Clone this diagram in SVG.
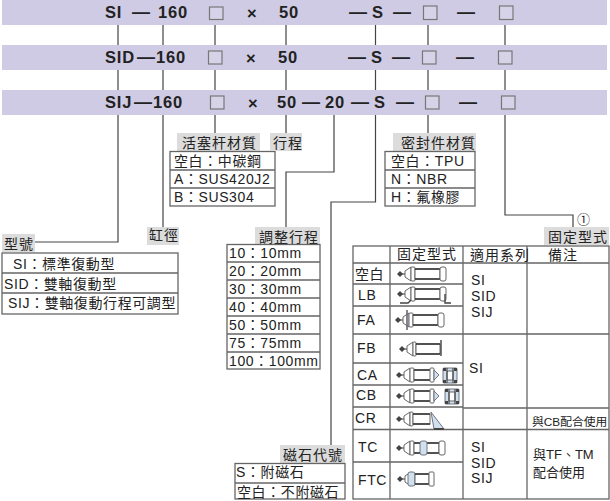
<svg xmlns="http://www.w3.org/2000/svg" width="610" height="501" viewBox="0 0 610 501">
<style>
text{font-family:"Liberation Sans","Noto Sans CJK TC",sans-serif;font-size:14px;fill:#222;letter-spacing:.6px}
.h{font-weight:bold;font-size:16.5px;letter-spacing:.8px}
.d{font-weight:bold;font-size:18px;letter-spacing:0}
.l{font-size:14px;letter-spacing:1px}
.s{font-size:13px;letter-spacing:0}
.xs{font-size:11.8px;letter-spacing:0}
.c1{font-size:13px;letter-spacing:0}
.band{fill:#cfcbe4}
.box{fill:#d6d3e8;stroke:#777;stroke-width:1.2}
.lab{fill:#dcdcdc}
.t{fill:#fff;stroke:#666;stroke-width:1.3}
.r{stroke:#666;stroke-width:1.3;fill:none}
#conn path{fill:none;stroke:#444;stroke-width:1.2}
.i{fill:#fff;stroke:#666;stroke-width:1}
.b{fill:#cfe0ee;stroke:#667;stroke-width:.9}
.k{fill:none;stroke:#444;stroke-width:1.1}
.z{fill:none;stroke:#333;stroke-width:1.3}
.m{fill:#444;stroke:none}
</style>
<defs>
<g id="head">
<path class="m" d="M0 0l3-3 3 3-3 3z"/>
<path class="k" d="M5 0h4"/>
<path class="i" d="M8-3l6-4v14l-6-4z"/>
</g>
<g id="cl">
<use href="#head"/>
<rect class="i" x="14" y="-7" width="4" height="14" rx="1"/>
<rect class="i" x="18" y="-5" width="25" height="10"/>
<path class="z" d="M18-5h25M18 5h25"/>
<rect class="i" x="43" y="-7" width="6" height="14" rx="2"/>
</g>
<g id="cs">
<use href="#head"/>
<rect class="i" x="14" y="-7" width="4" height="14" rx="1"/>
<rect class="i" x="18" y="-5" width="18" height="10"/>
<path class="z" d="M18-5h18M18 5h18"/>
<rect class="i" x="34" y="-7" width="4" height="14" rx="1"/>
<path class="b" d="M38-5l5 5-5 5z"/>
</g>
<g id="side">
<rect class="b" x="0" y="0" width="14" height="15" rx="1"/>
<rect class="i" x="4" y="3" width="6" height="9"/>
<path class="k" d="M4 0v15M10 0v15"/>
<path class="m" d="M0 0h3v3h-3zM11 0h3v3h-3zM0 12h3v3h-3zM11 12h3v3h-3z"/>
</g>
</defs>
<g id="bands">
<rect class="band" x="2" y="0" width="605" height="25"/>
<rect class="band" x="2" y="45" width="605" height="25"/>
<rect class="band" x="2" y="90" width="605" height="25"/>
</g>
<g id="conn">
<path d="M118 25V45M118 70V90M118 115V242H35"/>
<path d="M163 25V45M163 70V90M163 115V227"/>
<path d="M215 25V45M215 70V90M215 115V133"/>
<path d="M286 25V45M286 70V90M286 115V133"/>
<path d="M334 115V172H286V227"/>
<path d="M375.500 25V45M375.500 70V90M375.500 115V202H331V445"/>
<path d="M428 25V45M428 70V90M428 115V133"/>
<path d="M505 25V45M505 70V90M505 115V215H573V227"/>
</g>
<g id="row1">
<text class="h" x="105" y="18">SI</text><text class="d" x="132" y="18">—</text><text class="h" x="158" y="18">160</text>
<rect class="box" x="209.500" y="7" width="13.500" height="12.500"/>
<text class="h" x="247" y="19">×</text><text class="h" x="279" y="18">50</text>
<text class="d" x="349" y="18">—</text><text class="h" x="372" y="18">S</text><text class="d" x="393" y="18">—</text>
<rect class="box" x="423.500" y="6" width="13.500" height="13.500"/>
<text class="d" x="457" y="18">—</text>
<rect class="box" x="499.500" y="6" width="13.500" height="13.500"/>
</g>
<g id="row2">
<text class="h" x="105" y="63">SID</text><text class="d" x="137" y="63">—</text><text class="h" x="156" y="63">160</text>
<rect class="box" x="208.500" y="51" width="13.500" height="13"/>
<text class="h" x="246" y="64">×</text><text class="h" x="278" y="63">50</text>
<text class="d" x="348" y="63">—</text><text class="h" x="371" y="63">S</text><text class="d" x="392" y="63">—</text>
<rect class="box" x="422.500" y="51" width="13.500" height="13"/>
<text class="d" x="456" y="63">—</text>
<rect class="box" x="498.500" y="51" width="13.500" height="13"/>
</g>
<g id="row3">
<text class="h" x="105" y="108">SIJ</text><text class="d" x="134" y="108">—</text><text class="h" x="153" y="108">160</text>
<rect class="box" x="210.500" y="96" width="13.500" height="13"/>
<text class="h" x="248" y="109">×</text><text class="h" x="277" y="108">50</text>
<text class="d" x="302" y="108">—</text><text class="h" x="325" y="108">20</text><text class="d" x="351" y="108">—</text><text class="h" x="374" y="108">S</text><text class="d" x="396" y="108">—</text>
<rect class="box" x="425.500" y="96" width="13.500" height="13"/>
<text class="d" x="459" y="108">—</text>
<rect class="box" x="501.500" y="96" width="13.500" height="13"/>
</g>
<g id="rod">
<rect class="lab" x="177" y="133" width="83" height="18"/>
<text class="l" x="182" y="148">活塞杆材質</text>
<rect class="t" x="170" y="151.500" width="105" height="54.500"/>
<path class="r" d="M170 170H275M170 188H275"/>
<text x="174" y="166">空白：中碳鋼</text><text x="174" y="184">A：SUS420J2</text><text x="174" y="202">B：SUS304</text>
</g>
<g id="stroke">
<rect class="lab" x="270" y="133" width="32" height="18"/>
<text class="l" x="273" y="148">行程</text>
</g>
<g id="model">
<rect class="lab" x="2" y="234" width="33" height="18"/>
<text class="l" x="4" y="249">型號</text>
<rect class="t" x="2" y="253" width="176" height="61"/>
<path class="r" d="M2 273H178M2 293H178"/>
<text x="13" y="269">SI：標準復動型</text><text x="4" y="289">SID：雙軸復動型</text><text x="8" y="308">SIJ：雙軸復動行程可調型</text>
</g>
<g id="bore">
<rect class="lab" x="147" y="227" width="32" height="18"/>
<text class="l" x="149" y="240">缸徑</text>
</g>
<g id="adjust">
<rect class="lab" x="255" y="227" width="65" height="17"/>
<text class="l" x="259" y="242">調整行程</text>
<rect class="t" x="227" y="244.500" width="93" height="124.500"/>
<path class="r" d="M227 262H320M227 280H320M227 298H320M227 316H320M227 334H320M227 352H320"/>
<text x="229" y="258">10：10mm</text><text x="229" y="276">20：20mm</text><text x="229" y="294">30：30mm</text><text x="229" y="312">40：40mm</text><text x="229" y="330">50：50mm</text><text x="229" y="348">75：75mm</text><text x="229" y="366">100：100mm</text>
</g>
<g id="magnet">
<rect class="lab" x="280" y="445" width="65" height="18"/>
<text class="l" x="283" y="460">磁石代號</text>
<rect class="t" x="235" y="463.500" width="110" height="35.500"/>
<path class="r" d="M235 483H345"/>
<text x="236" y="477">S：附磁石</text><text x="237" y="497">空白：不附磁石</text>
</g>
<g id="seal">
<rect class="lab" x="393" y="133" width="83" height="18"/>
<text class="l" x="401" y="148">密封件材質</text>
<rect class="t" x="385" y="151.500" width="90" height="54.500"/>
<path class="r" d="M385 170H475M385 188H475"/>
<text x="391" y="166">空白：TPU</text><text x="391" y="184">N：NBR</text><text x="391" y="202">H：氟橡膠</text>
</g>
<g id="mount">
<text class="c1" x="577" y="224">①</text>
<rect class="lab" x="544" y="227" width="65" height="18"/>
<text class="l" x="548" y="242">固定型式</text>
<rect class="t" x="353" y="246" width="256" height="253"/>
<path class="r" d="M390 246V499M463 246V499M527 246V499M353 263H609M353 284H463M353 306H463M353 334H609M353 363H463M353 385H463M353 407H463M463 408H609M353 429.500H609M353 462H463"/>
<text class="l" x="397" y="259">固定型式</text><text class="l" x="470" y="260">適用系列</text><text class="l" x="548" y="260">備注</text>
<text x="355" y="279">空白</text><text x="358" y="300">LB</text><text x="357" y="325">FA</text><text x="357" y="353">FB</text><text x="357" y="380">CA</text><text x="356" y="400">CB</text><text x="355" y="423">CR</text><text x="358" y="452">TC</text><text x="358" y="485">FTC</text>
<text x="471" y="285">SI</text><text x="471" y="301">SID</text><text x="471" y="317">SIJ</text><text x="469" y="373">SI</text><text x="471" y="452">SI</text><text x="471" y="468">SID</text><text x="471" y="483">SIJ</text>
<text class="xs" x="532" y="426">與CB配合使用</text><text class="s" x="533" y="459">與TF、TM</text><text class="s" x="533" y="477">配合使用</text>
<use href="#cl" x="397" y="274"/>
<use href="#cl" x="397" y="294"/><path class="k" d="M400 303h8l3-3M445 294v9h6" style="stroke-width:1.4"/>
<use href="#cl" x="395" y="320"/><path class="b" d="M407 310v20" style="stroke-width:1.6"/>
<use href="#head" x="399" y="349"/><rect class="i" x="413" y="342" width="3" height="14" rx="1"/><rect class="i" x="416" y="344" width="24" height="10"/><path class="z" d="M416 344h24M416 354h24M441 340v16"/>
<use href="#cs" x="396" y="375"/><use href="#side" x="443" y="368"/>
<use href="#cs" x="396" y="396"/><use href="#side" x="445" y="389"/>
<use href="#head" x="396" y="419"/><rect class="i" x="410" y="412" width="3" height="14" rx="1"/><rect class="i" x="413" y="414" width="17" height="10"/><path class="z" d="M413 414h17M413 424h17"/><path class="b" d="M431 412l13 17h-10z"/><path class="k" d="M434 429h10" style="stroke-width:2"/>
<use href="#cl" x="396" y="448"/><rect class="b" x="420" y="441" width="7" height="14" rx="2"/>
<use href="#head" x="397" y="479"/><rect class="b" x="408" y="472" width="7" height="14" rx="2"/><rect class="i" x="415" y="474" width="14" height="10"/><path class="z" d="M415 474h14M415 484h14"/><rect class="i" x="429" y="472" width="5" height="14" rx="1"/>
</g>
</svg>
